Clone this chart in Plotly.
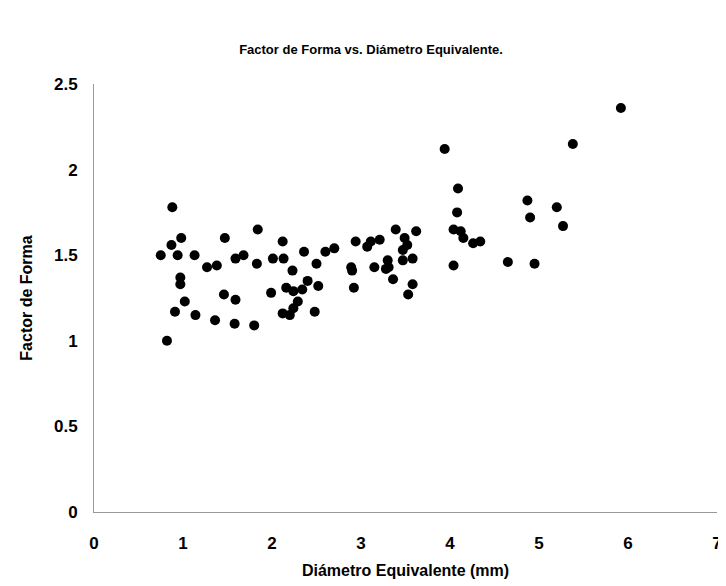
import plotly.graph_objects as go

diametro = [0.88, 0.98, 0.87, 0.75, 0.94, 1.13, 1.47, 1.84, 1.27, 1.38,
            1.59, 1.68, 1.83, 2.12, 2.01, 2.13, 2.36, 2.23, 0.97, 0.97,
            1.02, 0.91, 1.14, 1.36, 1.46, 1.59, 1.58, 1.80, 0.82, 1.99,
            2.16, 2.24, 2.34, 2.40, 2.29, 2.24, 2.12, 2.20, 2.48, 2.50,
            2.52, 2.60, 2.70, 2.94, 2.89, 2.90, 2.92, 3.07, 3.11, 3.21,
            3.15, 3.30, 3.31, 3.28, 3.36, 3.39, 3.49, 3.52, 3.47, 3.47,
            3.58, 3.62, 3.58, 3.53, 3.94, 4.09, 4.08, 4.04, 4.12, 4.15,
            4.26, 4.34, 4.04, 4.65, 4.87, 4.90, 5.20, 5.27, 4.95, 5.38,
            5.92]
factor = [1.78, 1.60, 1.56, 1.50, 1.50, 1.50, 1.60, 1.65, 1.43, 1.44,
          1.48, 1.50, 1.45, 1.58, 1.48, 1.48, 1.52, 1.41, 1.37, 1.33,
          1.23, 1.17, 1.15, 1.12, 1.27, 1.24, 1.10, 1.09, 1.00, 1.28,
          1.31, 1.29, 1.30, 1.35, 1.23, 1.19, 1.16, 1.15, 1.17, 1.45,
          1.32, 1.52, 1.54, 1.58, 1.43, 1.41, 1.31, 1.55, 1.58, 1.59,
          1.43, 1.47, 1.43, 1.42, 1.36, 1.65, 1.60, 1.56, 1.53, 1.47,
          1.48, 1.64, 1.33, 1.27, 2.12, 1.89, 1.75, 1.65, 1.64, 1.60,
          1.57, 1.58, 1.44, 1.46, 1.82, 1.72, 1.78, 1.67, 1.45, 2.15,
          2.36]

x_ticks = [0, 1, 2, 3, 4, 5, 6, 7]
y_ticks = [0, 0.5, 1, 1.5, 2, 2.5]
y_tick_text = ["0", "0.5", "1", "1.5", "2", "2.5"]

FONT = "Liberation Sans Narrow, Arial Narrow, Liberation Sans, Arial, sans-serif"

fig = go.Figure(go.Scatter(
    x=diametro, y=factor, mode="markers",
    marker=dict(color="black", size=10, line=dict(width=0)),
    hoverinfo="x+y"))

fig.update_layout(
    width=726, height=586,
    margin=dict(l=86, r=12, t=76, b=82),
    paper_bgcolor="white", plot_bgcolor="white",
    showlegend=False,
    font=dict(family=FONT, color="black"),
    title=dict(text="<b>Factor de Forma vs. Diámetro Equivalente.</b>",
               x=0.5, xanchor="center", y=0.93, yanchor="middle",
               font=dict(size=13, family=FONT, color="black")),
    xaxis=dict(range=[0, 7], tickvals=x_ticks, ticktext=[f"<b>{v}</b>" for v in x_ticks],
               showgrid=False, zeroline=False, showline=True, linecolor="#999999",
               linewidth=1, ticks="", tickfont=dict(size=17, family=FONT),
               ticklabelstandoff=16,
               title=dict(text="<b>Diámetro Equivalente (mm)</b>",
                          font=dict(size=16, family=FONT), standoff=12)),
    yaxis=dict(range=[0, 2.5], tickvals=y_ticks, ticktext=[f"<b>{t}</b>" for t in y_tick_text],
               showgrid=False, zeroline=False, showline=True, linecolor="#999999",
               linewidth=1, ticks="", tickfont=dict(size=17, family=FONT),
               ticklabelstandoff=12,
               title=dict(text="<b>Factor de Forma</b>",
                          font=dict(size=16, family=FONT), standoff=17)),
)

fig.write_html("out.html")
